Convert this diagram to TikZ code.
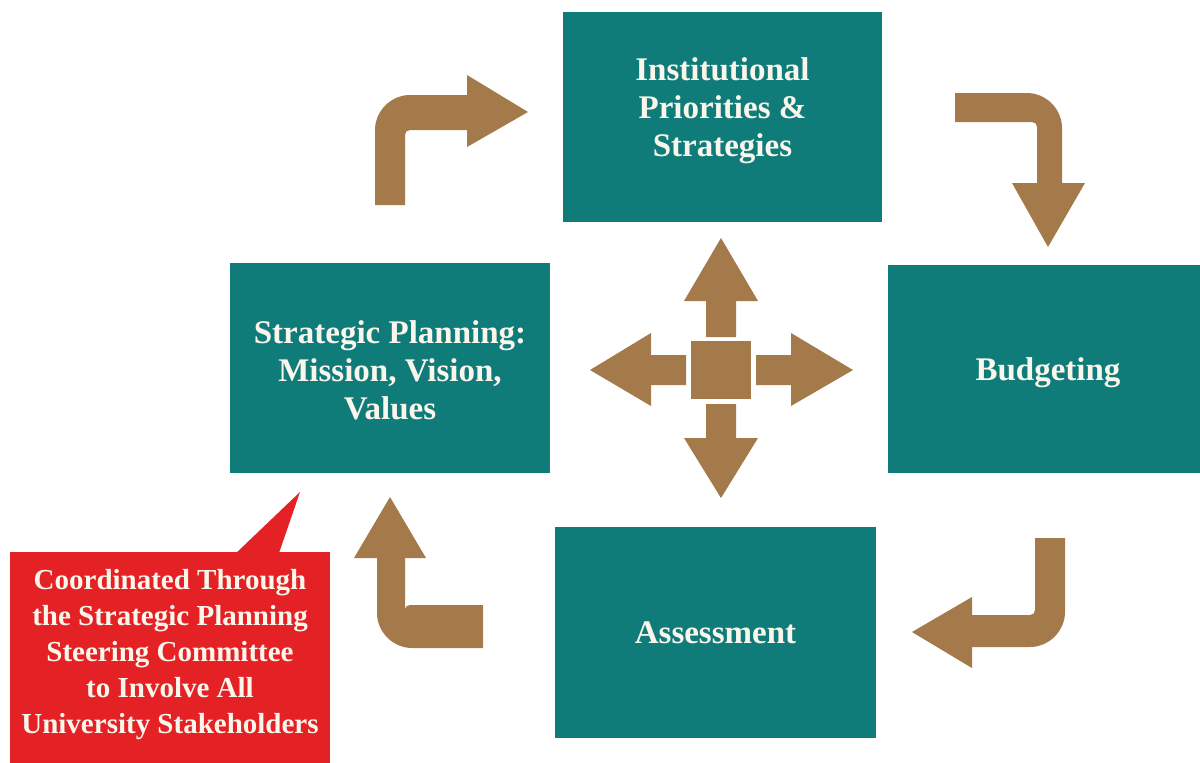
\documentclass[tikz,border=0pt]{standalone}
\usepackage{fontspec}
\setmainfont{Liberation Serif}
\definecolor{teal1}{RGB}{16,124,122}
\definecolor{tan1}{RGB}{164,122,74}
\definecolor{callred}{RGB}{228,34,38}
\definecolor{cream}{RGB}{250,246,236}
\tikzset{
  x=1pt, y=-1pt,
  stagebox/.style={fill=teal1, text=cream, inner sep=0pt, align=center,
    font=\bfseries\fontsize{33}{38}\selectfont},
  notebox/.style={fill=callred, text=cream, inner sep=0pt, align=center,
    font=\bfseries\fontsize{29}{36}\selectfont},
  flow/.style={fill=tan1},
}
\begin{document}
\begin{tikzpicture}
\path[use as bounding box, clip] (0,0) rectangle (1200,763);
\fill[white] (0,0) rectangle (1200,763);

% the four stages
\node[stagebox, minimum width=319pt, minimum height=210pt] (prio) at (722.5,117) {};
\node[stagebox] at (722.5,111) {Institutional\\Priorities \&\\Strategies};
\node[stagebox, minimum width=320pt, minimum height=210pt] (plan) at (390,368) {};
\node[stagebox] at (390,370) {Strategic Planning:\\Mission, Vision,\\Values};
\node[stagebox, minimum width=320pt, minimum height=208pt] (budget) at (1048,369) {};
\node[stagebox] at (1048,373) {Budgeting};
\node[stagebox, minimum width=321pt, minimum height=211pt] (assess) at (715.5,632.5) {};
\node[stagebox] at (715.5,633) {Assessment};

% callout
\node[notebox, minimum width=320pt, minimum height=218pt] (note) at (170,661) {};
\node[notebox] at (170,655)
  {Coordinated Through\\the Strategic Planning\\Steering Committee\\to Involve All\\University Stakeholders};
\coordinate (tip) at (300,492);
\fill[callred] (233,556) -- (tip) -- (278,556) -- cycle;

% bent arrows of the cycle
\fill[flow] (375,205) -- (375,130) .. controls (375,111) and (391,95) .. (410,95) -- (467,95)
  -- (467,75) -- (528,112) -- (467,147) -- (467,130) -- (410,130)
  .. controls (407,130) and (405,132) .. (405,135) -- (405,205) -- cycle;
\fill[flow] (955,93) -- (1027,93) .. controls (1046,93) and (1062,109) .. (1062,128) -- (1062,183)
  -- (1085,183) -- (1048,247) -- (1012,183) -- (1037,183) -- (1037,127)
  .. controls (1037,124) and (1035,122) .. (1032,122) -- (955,122) -- cycle;
\fill[flow] (1035,538) -- (1065,538) -- (1065,612) .. controls (1065,631) and (1049,647) .. (1030,647)
  -- (972,647) -- (972,668) -- (912,632) -- (972,597) -- (972,615) -- (1030,615)
  .. controls (1033,615) and (1035,613) .. (1035,610) -- cycle;
\fill[flow] (483,605) -- (483,648) -- (412,648) .. controls (393,648) and (377,632) .. (377,613)
  -- (377,558) -- (354,558) -- (390,497) -- (426,558) -- (405,558) -- (405,610)
  .. controls (405,607) and (407,605) .. (410,605) -- cycle;

% central four-way arrow
\fill[flow] (691,341) rectangle (751,399);
\fill[flow] (706,337) -- (706,301) -- (684,301) -- (721,238) -- (758,301) -- (736,301) -- (736,337) -- cycle;
\fill[flow] (706,404) -- (706,438) -- (684,438) -- (721,498) -- (758,438) -- (736,438) -- (736,404) -- cycle;
\fill[flow] (686,355) -- (651,355) -- (651,333) -- (590,370) -- (651,406) -- (651,385) -- (686,385) -- cycle;
\fill[flow] (756,355) -- (791,355) -- (791,333) -- (853,370) -- (791,406) -- (791,385) -- (756,385) -- cycle;
\end{tikzpicture}
\end{document}
